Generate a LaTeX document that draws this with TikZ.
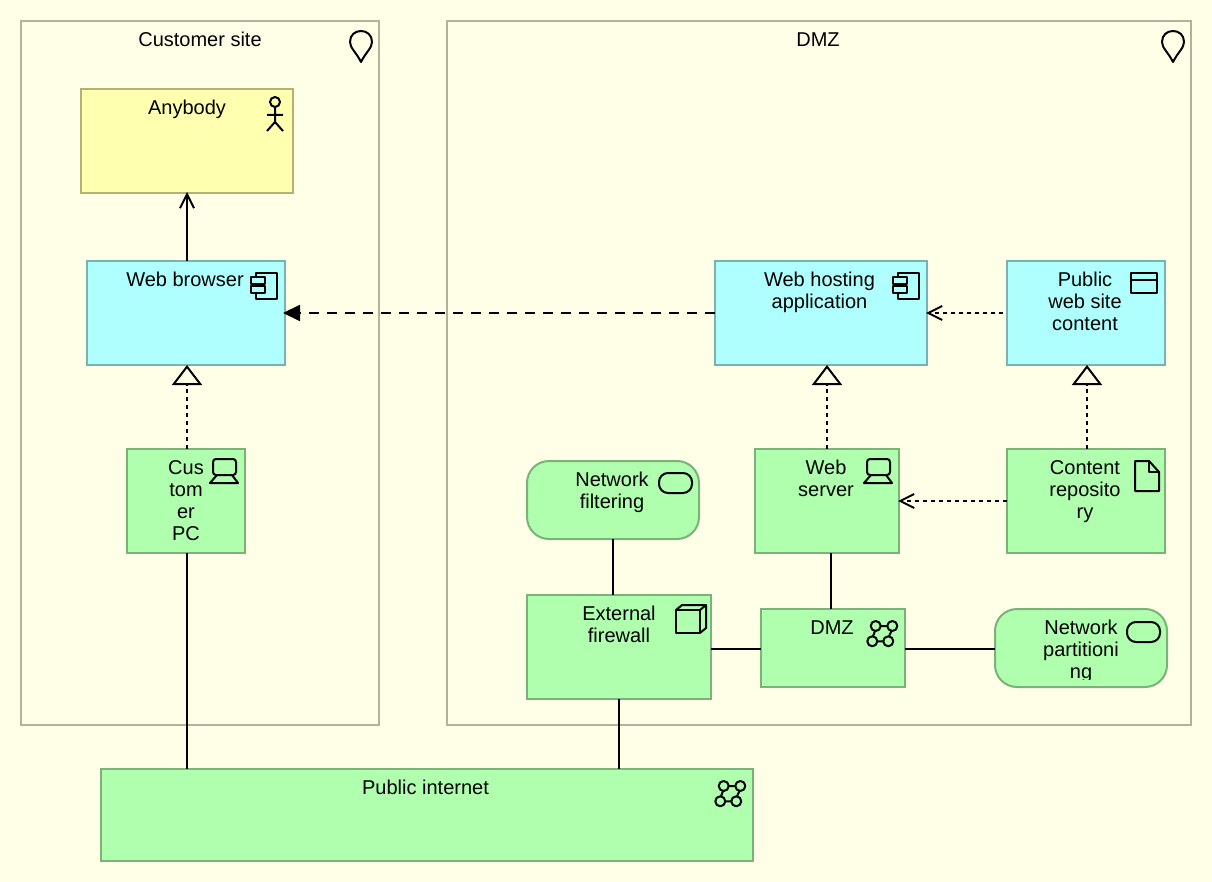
\documentclass[tikz,border=0pt]{standalone}
\usepackage{fontspec}
\setmainfont{Liberation Sans}
\usetikzlibrary{arrows.meta}
\definecolor{pagebg}{HTML}{FFFFE8}
\definecolor{grpline}{HTML}{B2B299}
\definecolor{bizfill}{HTML}{FFFFB0}
\definecolor{bizline}{HTML}{B2B272}
\definecolor{appfill}{HTML}{AFFFFF}
\definecolor{appline}{HTML}{7AB2B2}
\definecolor{tecfill}{HTML}{AFFFAF}
\definecolor{tecline}{HTML}{7AB27A}
\tikzset{
  boxbase/.style={draw,line width=2pt,inner sep=0pt,outer sep=0pt,rectangle},
  grp/.style={boxbase,draw=grpline},
  biz/.style={boxbase,draw=bizline,fill=bizfill},
  app/.style={boxbase,draw=appline,fill=appfill},
  tec/.style={boxbase,draw=tecline,fill=tecfill},
  svc/.style={tec,rounded corners=22pt},
  lbl/.style={anchor=north,align=center,inner sep=0pt,outer sep=0pt,font=\fontsize{20}{22}\selectfont},
  conn/.style={line width=2pt,draw=black},
  dotline/.style={conn,dash pattern=on 4pt off 4pt},
  flowline/.style={conn,dash pattern=on 10pt off 8pt},
  realize/.style={dotline,-{Triangle[length=20pt,width=30pt,fill=pagebg,line width=2pt,sep=0pt]}},
  serve/.style={conn,-{Straight Barb[length=14pt,width=14pt,line width=2pt]}},
  access/.style={dotline,shorten >=-1pt,-{Straight Barb[length=14pt,width=14pt,line width=2pt]}},
  flowtip/.style={flowline,-{Triangle[length=17pt,width=16pt]}},
  icon/.style={line width=2pt,draw=black,line join=round},
}
\newcommand{\abox}[6]{%
  \pgfmathsetmacro\bw{#5-#3}\pgfmathsetmacro\bh{#6-#4}%
  \pgfmathsetmacro\cx{(#5+#3)/2}\pgfmathsetmacro\cy{(#6+#4)/2}%
  \node[#1,minimum width=\bw pt,minimum height=\bh pt] (#2) at (\cx,\cy) {};}
\newcommand{\alabel}[4]{%
  \pgfmathsetmacro\ty{#3+10.4}%
  \node[lbl] (#1) at (#2,\ty) {\rule{0pt}{15pt}#4};}
\newcommand{\icpin}[2]{\begin{scope}[shift={(#1,#2)}]
  \draw[icon] (0,31) .. controls (-5,21) and (-11,17) .. (-11,11) .. controls (-11,4) and (-6,0) .. (0,0) .. controls (6,0) and (11,4) .. (11,11) .. controls (11,17) and (5,21) .. (0,31) -- cycle;
\end{scope}}
\newcommand{\icactor}[2]{\begin{scope}[shift={(#1,#2)}]
  \draw[icon] (-8,13) circle (5pt);
  \draw[icon] (-8,18) -- (-8,33) (-16,26) -- (0,26) (-16,42) -- (-8,33) -- (0,42);
\end{scope}}
\newcommand{\iccomp}[2]{\begin{scope}[shift={(#1,#2)}]
  \draw[icon] (-29.5,16) -- (-29.5,12) -- (-8,12) -- (-8,38) -- (-29.5,38) -- (-29.5,32);
  \draw[icon] (-29.5,23) -- (-29.5,25.5);
  \draw[icon] (-34,16) rectangle (-20,23);
  \draw[icon] (-34,25.5) rectangle (-20,32);
\end{scope}}
\newcommand{\icdevice}[2]{\begin{scope}[shift={(#1,#2)}]
  \draw[icon,rounded corners=3pt] (-29,26) -- (-32,26) -- (-32,10) -- (-9,10) -- (-9,26) -- (-12,26);
  \draw[icon] (-28,26) -- (-13,26) -- (-7,34) -- (-35,34) -- cycle;
\end{scope}}
\newcommand{\icwindow}[2]{\begin{scope}[shift={(#1,#2)}]
  \draw[icon] (-34,12) rectangle (-8,32);
  \draw[icon] (-34,19) -- (-8,19);
\end{scope}}
\newcommand{\icdoc}[2]{\begin{scope}[shift={(#1,#2)}]
  \draw[icon] (-30,12) -- (-16,12) -- (-6,23) -- (-6,42) -- (-30,42) -- cycle;
  \draw[icon] (-16,12) -- (-16,23) -- (-6,23);
\end{scope}}
\newcommand{\icservice}[2]{\begin{scope}[shift={(#1,#2)}]
  \draw[icon,rounded corners=9pt] (-40,12) rectangle (-7,32);
\end{scope}}
\newcommand{\icnode}[2]{\begin{scope}[shift={(#1,#2)}]
  \draw[icon] (-35,15) rectangle (-11,38);
  \draw[icon] (-35,15) -- (-29,10) -- (-5,10) -- (-5,33) -- (-11,38);
  \draw[icon] (-11,15) -- (-5,10);
\end{scope}}
\newcommand{\icnet}[2]{\begin{scope}[shift={(#1,#2)}]
  \draw[icon] (-24.3,17) -- (-17.7,17) (-27.7,32.3) -- (-21.7,32.3) (-30,22) -- (-32,27.3) (-13.5,22) -- (-16,27.3);
  \draw[icon] (-29.3,17) circle (5pt);
  \draw[icon] (-12.7,17) circle (5pt);
  \draw[icon] (-32.7,32.3) circle (5pt);
  \draw[icon] (-16.7,32.3) circle (5pt);
\end{scope}}
\begin{document}
\begin{tikzpicture}[x=1pt,y=-1pt]
\useasboundingbox (0,0) rectangle (1212,882);
\fill[pagebg] (0,0) rectangle (1212,882);
% groups
\abox{grp}{gcust}{21}{21}{379}{725}
\abox{grp}{gdmz}{447}{21}{1191}{725}
\alabel{tcust}{200}{21}{Customer site}
\alabel{tgdmz}{818}{21}{DMZ}
\icpin{361}{31}
\icpin{1173}{31}
% boxes
\abox{biz}{anybody}{81}{89}{293}{193}
\abox{app}{browser}{87}{261}{285}{365}
\abox{tec}{pc}{127}{449}{245}{553}
\abox{app}{hosting}{715}{261}{927}{365}
\abox{app}{content}{1007}{261}{1165}{365}
\abox{tec}{server}{755}{449}{899}{553}
\abox{tec}{repo}{1007}{449}{1165}{553}
\abox{svc}{filter}{527}{461}{699}{539}
\abox{tec}{firewall}{527}{595}{711}{699}
\abox{tec}{dmz}{761}{609}{905}{687}
\abox{svc}{partition}{995}{609}{1167}{687}
\abox{tec}{inet}{101}{769}{753}{861}
% labels
\alabel{tany}{187}{89}{Anybody}
\alabel{tbrowser}{185}{261}{Web browser}
\alabel{tpc}{186}{449}{Cus\\tom\\er\\PC}
\alabel{thosting}{819.5}{261}{Web hosting\\application}
\alabel{tcontent}{1085}{261}{Public\\web site\\content}
\alabel{tserver}{826}{449}{Web\\server}
\alabel{trepo}{1085}{449}{Content\\reposito\\ry}
\alabel{tfilter}{612}{461}{Network\\filtering}
\alabel{tfire}{619}{595}{External\\firewall}
\alabel{tdmz}{832}{609}{DMZ}
\begin{scope}
\clip (995,609) rectangle (1167,679);
\alabel{tpart}{1081}{609}{Network\\partitioni\\ng}
\end{scope}
\alabel{tinet}{425.5}{769}{Public internet}
% icons
\icactor{283}{89}
\iccomp{285}{261}
\iccomp{927}{261}
\icdevice{245}{449}
\icdevice{899}{449}
\icwindow{1165}{261}
\icdoc{1165}{449}
\icservice{699}{461}
\icservice{1167}{610}
\icnode{711}{595}
\icnet{905}{609}
\icnet{753}{769}
% connectors
\draw[serve] ([xshift=1pt]browser.north) -- ([xshift=1pt,yshift=1pt]browser.north |- anybody.south);
\draw[realize] ([xshift=1pt]pc.north) -- ([xshift=1pt]pc.north |- browser.south);
\draw[conn] ([xshift=1pt]pc.south) -- ([xshift=1pt]pc.south |- inet.north);
\draw[flowtip,shorten >=-2pt] (hosting.west) -- (browser.east);
\draw[access,dash phase=4pt] (content.west) -- (hosting.east);
\draw[realize] (server.north) -- (server.north |- hosting.south);
\draw[realize] ([xshift=1pt]repo.north) -- ([xshift=1pt]repo.north |- content.south);
\draw[access] (repo.west) -- (server.east);
\draw[conn] ([xshift=4pt]server.south) -- ([xshift=4pt]server.south |- dmz.north);
\draw[conn] (filter.south) -- (filter.south |- firewall.north);
\draw[conn] (firewall.south) -- (firewall.south |- inet.north);
\draw[conn] ([yshift=-1pt]dmz.west) -- ([yshift=-1pt]dmz.west -| firewall.east);
\draw[conn] ([yshift=-1pt]dmz.east) -- ([yshift=-1pt]partition.west);
\end{tikzpicture}
\end{document}
